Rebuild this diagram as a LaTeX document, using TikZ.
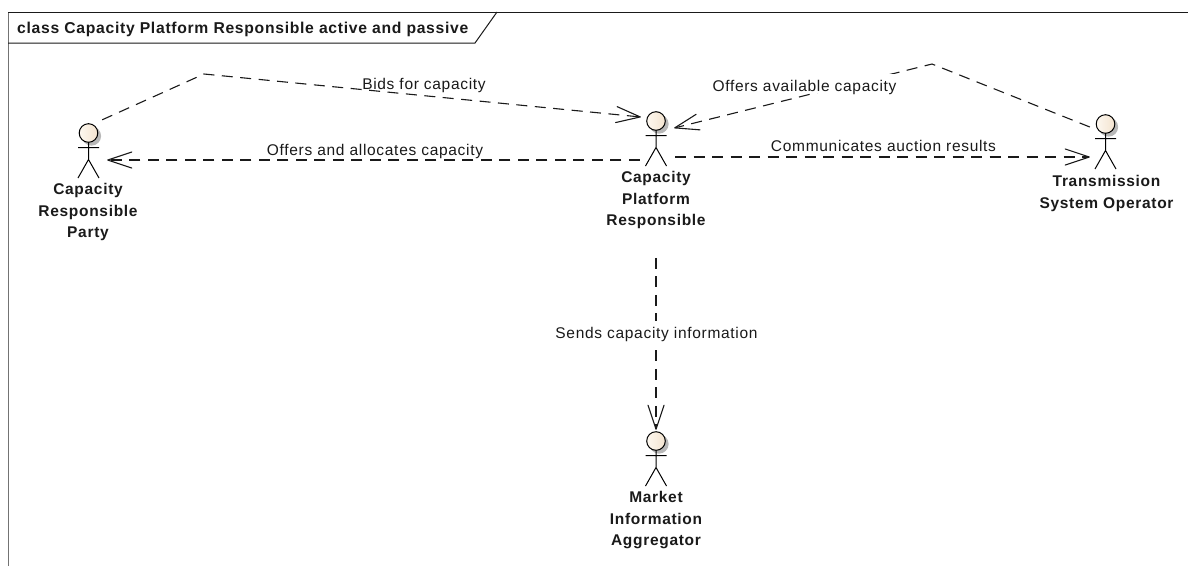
\documentclass[tikz,border=0pt]{standalone}
\usepackage{fontspec}
\setmainfont[LetterSpace=4.5]{Liberation Sans}
\usetikzlibrary{arrows.meta,positioning}
\definecolor{ink}{HTML}{1A1A1A}
\definecolor{headL}{HTML}{FDF8F0}
\definecolor{headR}{HTML}{F3E3CF}
\tikzset{
 x=1pt,y=-1pt,
 actorbox/.style={inner sep=0pt,minimum width=34pt,minimum height=56pt},
 actorname/.style={align=center,font=\fontsize{15.5}{21.5}\selectfont\bfseries,text=ink,inner sep=0pt,anchor=north},
 flow/.style={draw=ink,line width=1.1pt,dash pattern=on 11pt off 7.5pt,-{Straight Barb[length=24pt,width=16pt,line width=1.1pt,round=false]}},
 flowlabel/.style={font=\fontsize{15.5}{16}\selectfont,text=ink,inner sep=0pt,anchor=base},
 framel/.style={draw=ink,line width=1pt},
 actorfig/.pic={
  \fill[black!28] (3,3) circle (9.6);
  \draw[black,line width=1pt,left color=headL,right color=headR] (0,0) circle (9.3);
  \draw[black,line width=1pt] (0,9.3) -- (0,26.5) (-10.5,14.5) -- (10.5,14.5) (-10.5,45) -- (0,26.5) -- (10.5,45);
 }
}
\begin{document}
\begin{tikzpicture}
\useasboundingbox (0,0) rectangle (1188,566);
\fill[white] (0,0) rectangle (1188,566);
\draw[framel,draw=black!55] (8,566) -- (8,12);
\draw[framel] (8,12) -- (1188,12);
\draw[framel] (8,43) -- (475,43) -- (497,12);
\node[font=\fontsize{15.7}{16}\selectfont\bfseries,text=ink,inner sep=0pt,anchor=base west] (title) at (17,33.5) {class Capacity Platform Responsible active and passive};
\pic at (88.5,133) {actorfig};
\pic at (656,121) {actorfig};
\pic at (1105.5,124) {actorfig};
\pic at (656,441) {actorfig};
\node[actorbox] (crp) at (88.5,146) {};
\node[actorbox] (cpr) at (656,140) {};
\node[actorbox] (tso) at (1105.5,143) {};
\node[actorbox] (mia) at (656,460) {};
\node[actorname] (crpn) at (88,183.5) {Capacity\\Responsible\\Party};
\node[actorname] (cprn) at (656,171.5) {Capacity\\Platform\\Responsible};
\node[actorname] (tson) at (1106.5,175.5) {Transmission\\System Operator};
\node[actorname] (mian) at (656,491.5) {Market\\Information\\Aggregator};
\coordinate (b1) at (204,74);
\coordinate (b2) at (932,64);
\draw[flow] ([xshift=-3.5,yshift=-2]crp.north east) -- (b1) -- ([xshift=2,yshift=23]cpr.west);
\draw[flow] ([xshift=1,yshift=-20]cpr.west) -- ([xshift=1.5,yshift=-14]crp.east);
\draw[flow] ([xshift=2,yshift=-17]cpr.east) -- ([xshift=1.5,yshift=-14]tso.west);
\draw[flow] ([xshift=1.5,yshift=16]tso.west) -- (b2) -- ([xshift=1,yshift=12]cpr.east);
\draw[flow] ([yshift=-28.5]cprn.south) -- ([yshift=2]mia.north);
\node[flowlabel] (l1) at (424,89) {Bids for capacity};
\node[flowlabel] (l2) at (375,155) {Offers and allocates capacity};
\node[flowlabel] (l3) at (883.5,151.7) {Communicates auction results};
\node[flowlabel,fill=white,text height=17.7pt,text depth=1.3pt] (l4) at (804.5,91.7) {Offers available capacity};
\node[flowlabel,fill=white,text height=17pt,text depth=9pt] (l5) at (656.5,338) {Sends capacity information};
\end{tikzpicture}
\end{document}
